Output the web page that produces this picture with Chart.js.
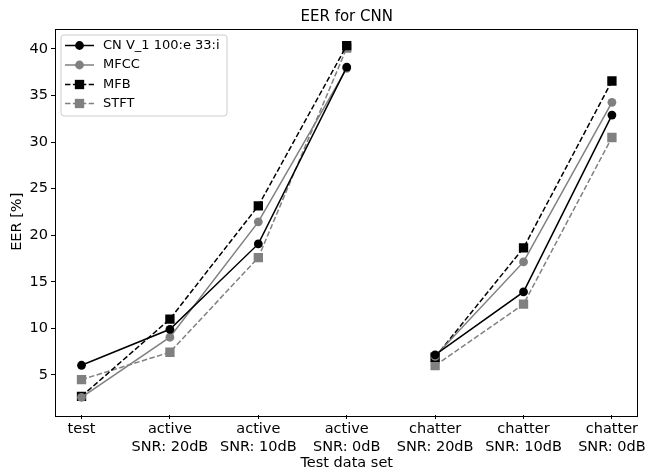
<!DOCTYPE html>
<html><head><meta charset="utf-8">
<script src="https://cdn.jsdelivr.net/npm/chart.js@4/dist/chart.umd.min.js"></script>
<style>html,body{margin:0;padding:0;background:#fff}#wrap{width:648px;height:475px}</style>
</head><body><div id="wrap"><canvas id="c" width="648" height="475"></canvas></div>
<script>
const categories = [['test'], ['active','SNR: 20dB'], ['active','SNR: 10dB'], ['active','SNR: 0dB'], ['chatter','SNR: 20dB'], ['chatter','SNR: 10dB'], ['chatter','SNR: 0dB']];
const seriesNames = ['CN V_1 100:e 33:i', 'MFCC', 'MFB', 'STFT'];
const cnValues   = [6.04, 9.9, 19.07, 38.06, 7.15, 13.92, 32.9];
const mfccValues = [2.6, 9.05, 21.44, 37.92, 7.0, 17.14, 34.27];
const mfbValues  = [2.7, 11.0, 23.16, 40.37, 6.9, 18.64, 36.56];
const stftValues = [4.5, 7.44, 17.6, 40.1, 6.0, 12.6, 30.5];
const yTicks = [5, 10, 15, 20, 25, 30, 35, 40];
const titleText = 'EER for CNN';
const xTitle = 'Test data set';
const yTitle = 'EER [%]';

const FONT = 'DejaVu Sans';
const FS = 14.5;
const LFS = 13;
const GRAY = '#808080';
const DASH = [5.5, 2.4];

function mk(name, vals, color, dashed, style) {
  return {
    label: name,
    data: vals.map((v, i) => ({x: i, y: v})),
    borderColor: color,
    backgroundColor: color,
    borderWidth: 1.5,
    borderDash: dashed ? DASH : [],
    pointStyle: style,
    pointRadius: style === 'rect' ? 6.6 : 4.4,
    pointBorderWidth: 0,
    pointBackgroundColor: color,
    pointHoverRadius: style === 'rect' ? 6.6 : 4.4,
    tension: 0,
    fill: false,
    segment: {
      borderColor: ctx => ctx.p0DataIndex === 3 ? 'rgba(0,0,0,0)' : undefined
    }
  };
}

const datasets = [
  mk(seriesNames[0], cnValues, '#000000', false, 'circle'),
  mk(seriesNames[1], mfccValues, GRAY, false, 'circle'),
  mk(seriesNames[2], mfbValues, '#000000', true, 'rect'),
  mk(seriesNames[3], stftValues, GRAY, true, 'rect')
];

const decor = {
  id: 'decor',
  afterDatasetsDraw(chart) {
    const ctx = chart.ctx, a = chart.chartArea;
    ctx.save();
    // spines
    ctx.strokeStyle = '#000';
    ctx.lineWidth = 1;
    ctx.setLineDash([]);
    ctx.strokeRect(Math.round(a.left) + 0.5, Math.round(a.top) + 0.5, Math.round(a.right - a.left) - 1, Math.round(a.bottom - a.top));
    // title
    ctx.fillStyle = '#000';
    ctx.font = '15px "' + FONT + '"';
    ctx.textAlign = 'center';
    ctx.textBaseline = 'middle';
    ctx.fillText(titleText, (a.left + a.right) / 2, 17);
    // legend
    const bx = 61, by = 35, bw = 166, bh = 81, r = 3;
    ctx.beginPath();
    ctx.moveTo(bx + r, by);
    ctx.arcTo(bx + bw, by, bx + bw, by + bh, r);
    ctx.arcTo(bx + bw, by + bh, bx, by + bh, r);
    ctx.arcTo(bx, by + bh, bx, by, r);
    ctx.arcTo(bx, by, bx + bw, by, r);
    ctx.closePath();
    ctx.fillStyle = 'rgba(255,255,255,0.8)';
    ctx.fill();
    ctx.strokeStyle = '#cccccc';
    ctx.lineWidth = 1;
    ctx.stroke();
    const rows = [45.5, 65, 84.5, 103.5];
    ctx.font = LFS + 'px "' + FONT + '"';
    chart.data.datasets.forEach((ds, i) => {
      const y = rows[i];
      ctx.strokeStyle = ds.borderColor;
      ctx.lineWidth = ds.borderWidth;
      ctx.setLineDash(ds.borderDash);
      ctx.beginPath();
      ctx.moveTo(65, y);
      ctx.lineTo(94, y);
      ctx.stroke();
      ctx.setLineDash([]);
      ctx.fillStyle = ds.backgroundColor;
      if (ds.pointStyle === 'rect') {
        const s = Math.SQRT1_2 * ds.pointRadius;
        ctx.fillRect(79.5 - s, y - s, 2 * s, 2 * s);
      } else {
        ctx.beginPath();
        ctx.arc(79.5, y, ds.pointRadius, 0, Math.PI * 2);
        ctx.fill();
      }
      ctx.fillStyle = '#000';
      ctx.textAlign = 'left';
      ctx.textBaseline = 'middle';
      ctx.fillText(ds.label, 103, y);
    });
    ctx.restore();
  }
};

new Chart(document.getElementById('c'), {
  type: 'line',
  data: { datasets },
  options: {
    responsive: false,
    animation: false,
    devicePixelRatio: 1,
    layout: { padding: { top: 28.5, right: 6, left: 0, bottom: 0 } },
    plugins: { legend: { display: false }, title: { display: false }, tooltip: { enabled: false } },
    scales: {
      x: {
        type: 'linear',
        min: -0.3, max: 6.3,
        afterBuildTicks: s => { s.ticks = categories.map((_, i) => ({ value: i })); },
        afterFit: s => { s.height = 60; },
        ticks: {
          autoSkip: false, maxRotation: 0, minRotation: 0,
          color: '#000', padding: 2,
          font: { family: FONT, size: FS, lineHeight: 1.2 },
          callback: v => categories[v]
        },
        grid: { drawOnChartArea: false, drawTicks: true, tickLength: 4, color: '#000', lineWidth: 1 },
        border: { display: false },
        title: { display: true, text: xTitle, color: '#000', font: { family: FONT, size: FS, lineHeight: 1.2 }, padding: { top: 0, bottom: 3 } }
      },
      y: {
        min: 0.7, max: 42.2,
        afterBuildTicks: s => { s.ticks = yTicks.map(v => ({ value: v })); },
        afterFit: s => { s.width = 55; },
        ticks: { color: '#000', padding: 3, font: { family: FONT, size: FS } },
        grid: { drawOnChartArea: false, drawTicks: true, tickLength: 4, color: '#000', lineWidth: 1 },
        border: { display: false },
        title: { display: true, text: yTitle, color: '#000', font: { family: FONT, size: FS, lineHeight: 1.2 }, padding: { top: 9, bottom: 0 } }
      }
    }
  },
  plugins: [decor]
});
</script></body></html>
